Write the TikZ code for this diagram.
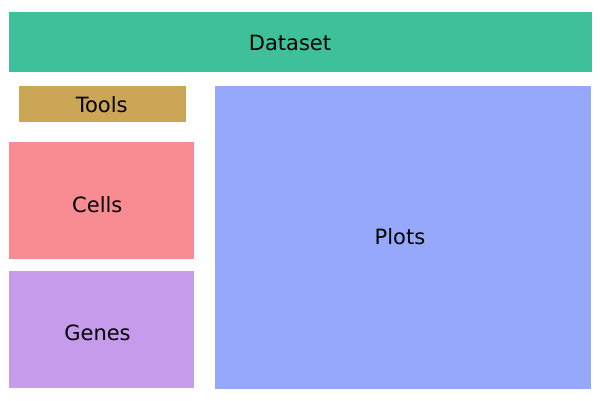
\documentclass[tikz,border=0pt]{standalone}
\usepackage{fontspec}
\setmainfont{DejaVu Sans}
\definecolor{cdata}{HTML}{3EC19A}
\definecolor{ctools}{HTML}{CCA657}
\definecolor{ccells}{HTML}{F98B93}
\definecolor{cgenes}{HTML}{C79BEC}
\definecolor{cplots}{HTML}{96A8FC}
\begin{document}
\begin{tikzpicture}[
  x=1pt, y=-1pt,
  lbl/.style={inner sep=0pt, anchor=base, font=\fontsize{21}{25}\selectfont, text=black}
]
  \useasboundingbox[fill=white] (0,0) rectangle (600,400);

  % --- TILES (pixel grid, y downward) ---
  \fill[cdata]  (9,12)   rectangle (592,72);   % Dataset
  \fill[ctools] (19,86)  rectangle (186,122);  % Tools
  \fill[ccells] (9,142)  rectangle (194,259);  % Cells
  \fill[cgenes] (9,271)  rectangle (194,388);  % Genes
  \fill[cplots] (215,86) rectangle (591,389);  % Plots

  % --- LABELS ---
  \node[lbl] (dataset) at (290,50.3)    {Dataset};
  \node[lbl] (tools)   at (101.7,112.3) {Tools};
  \node[lbl] (cells)   at (97.3,212.3)  {Cells};
  \node[lbl] (genes)   at (97.5,340.3)  {Genes};
  \node[lbl] (plots)   at (400,244.3)   {Plots};
\end{tikzpicture}
\end{document}
